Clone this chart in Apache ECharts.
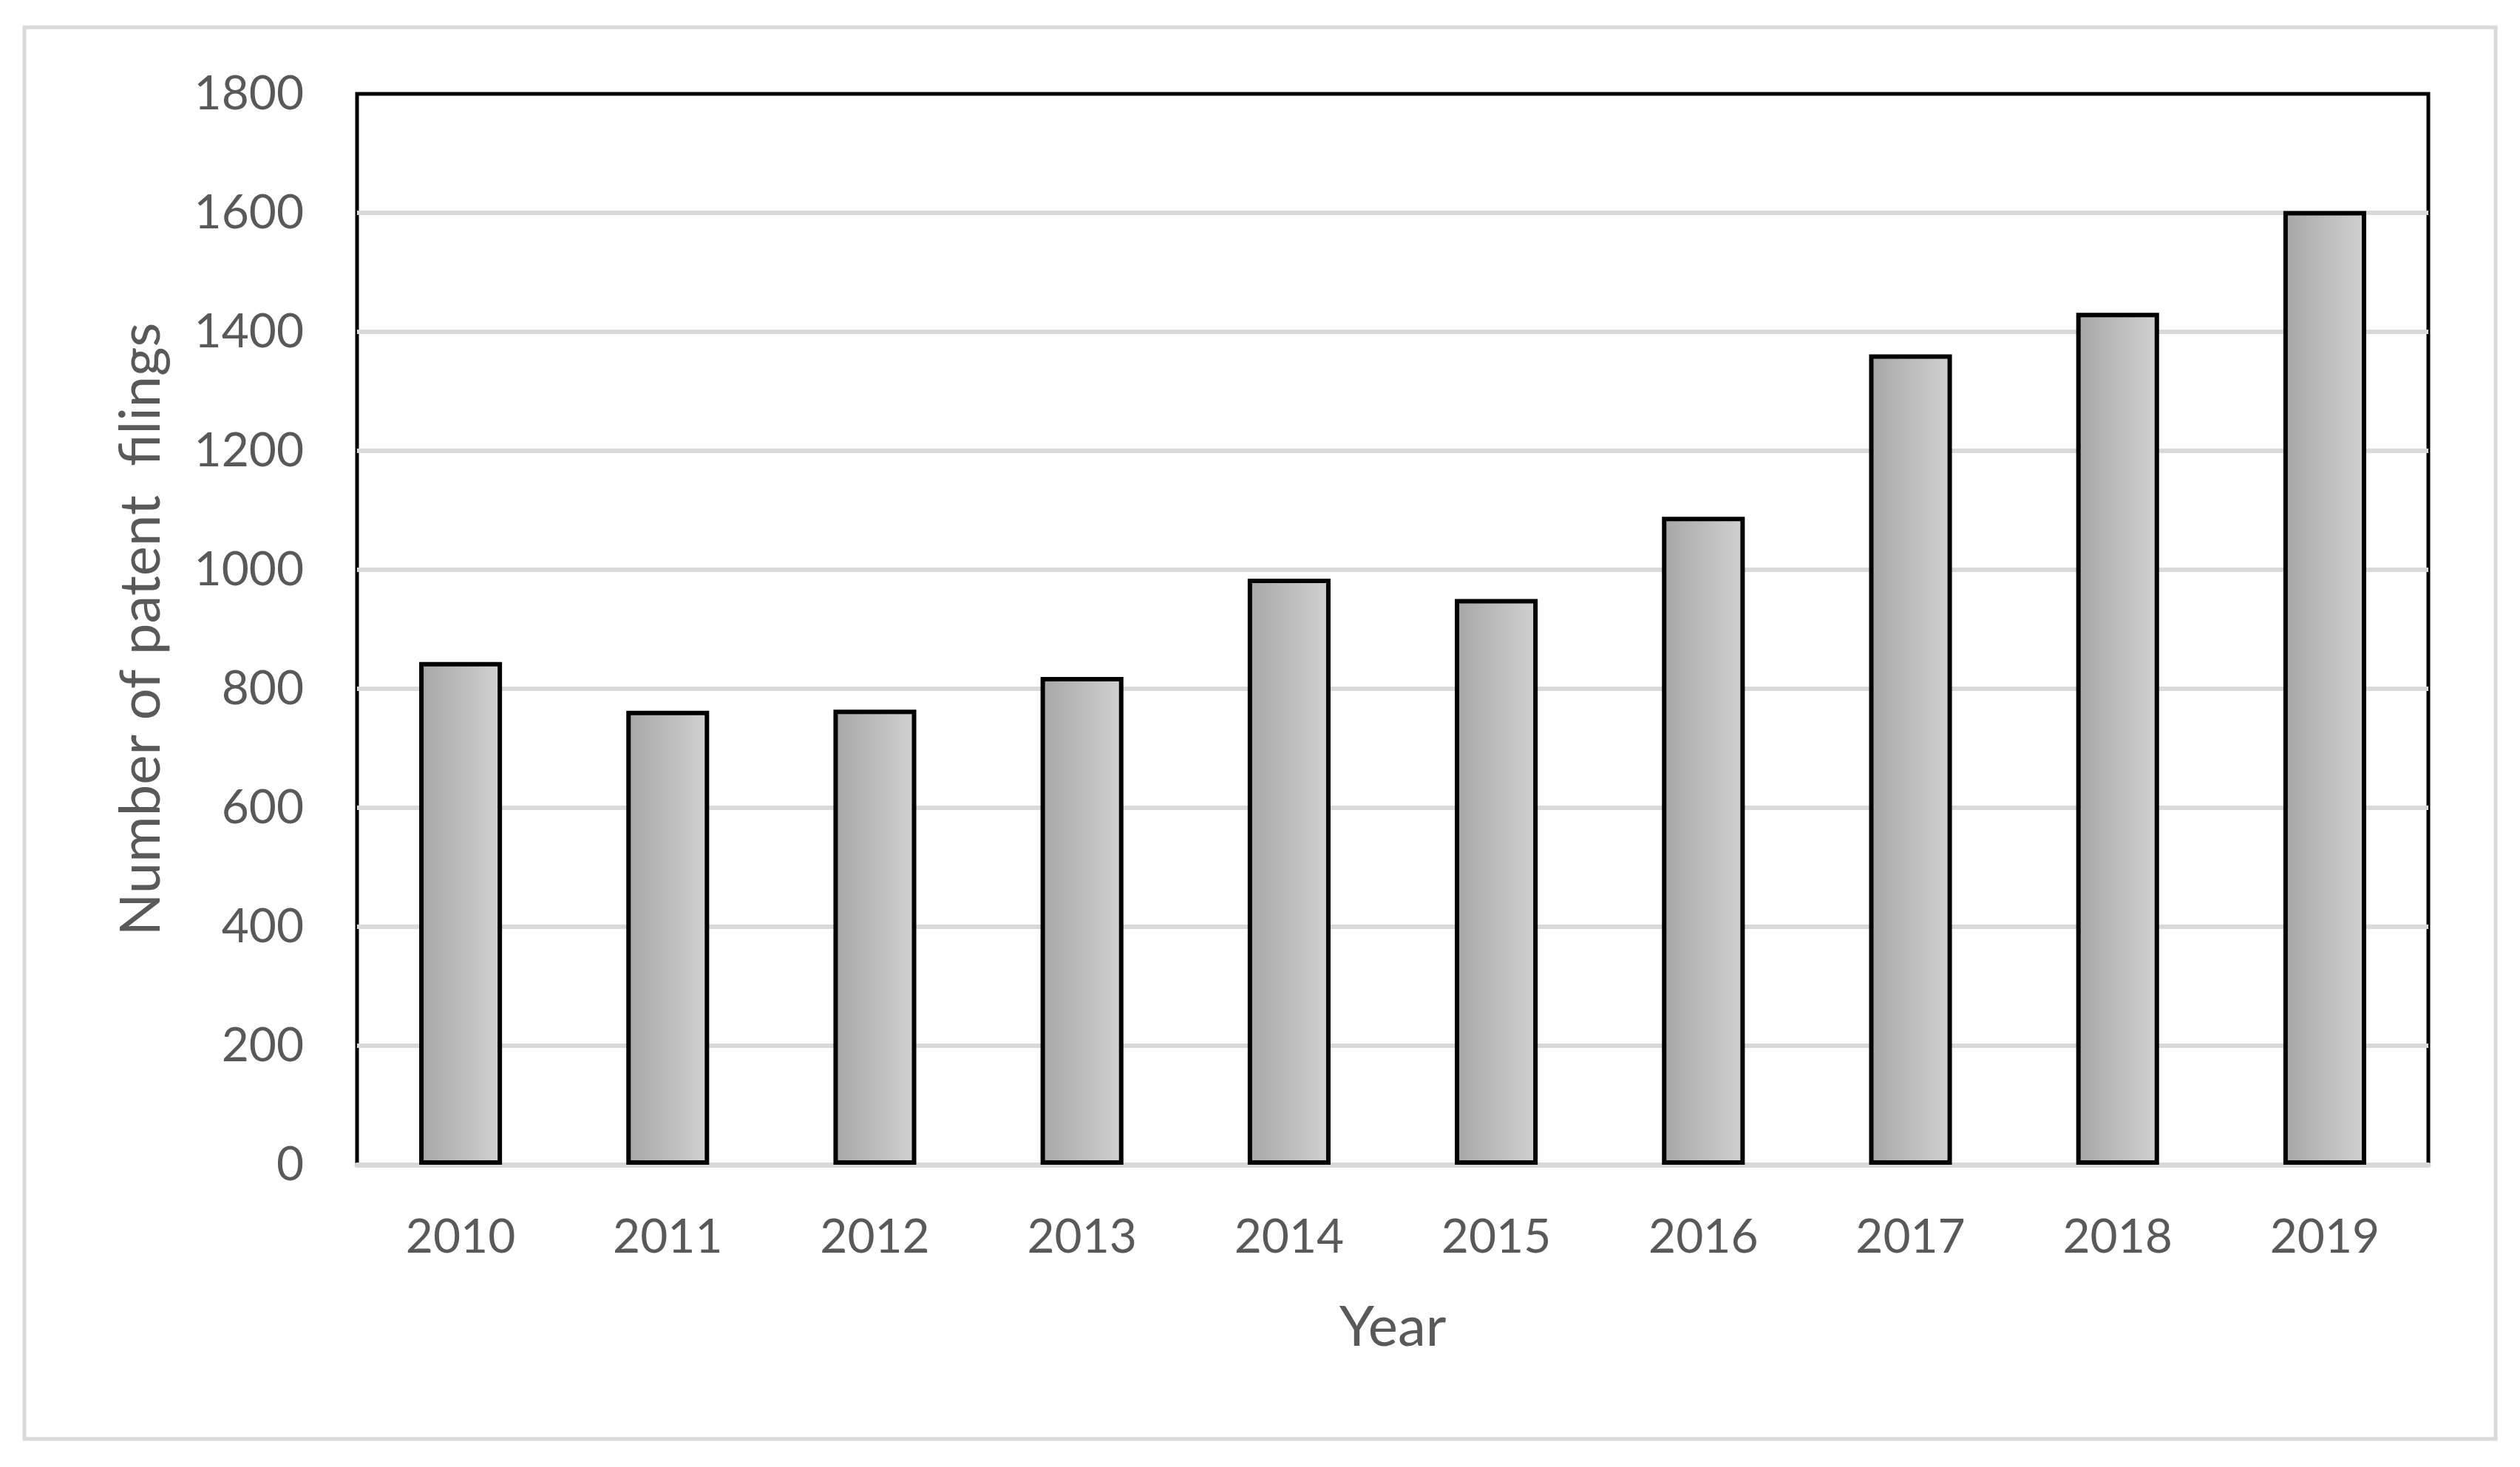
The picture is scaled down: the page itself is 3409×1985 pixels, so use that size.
<!DOCTYPE html>
<html>
<head>
<meta charset="utf-8">
<script src="https://cdn.jsdelivr.net/npm/echarts@6/dist/echarts.min.js"></script>
<style>
  html, body { margin: 0; padding: 0; background: #fff; }
  #main { width: 3409px; height: 1985px; }
</style>
</head>
<body>
<div id="main"></div>
<script>
var years = ['2010', '2011', '2012', '2013', '2014', '2015', '2016', '2017', '2018', '2019'];
var filings = [845, 763, 765, 820, 985, 951, 1089, 1362, 1432, 1603];
var yTicks = { min: 0, max: 1800, interval: 200 };

var chart = echarts.init(document.getElementById('main'));
var labelFont = 'Lato, "Open Sans", sans-serif';

var option = {
    backgroundColor: '#fff',
    animation: false,
    graphic: [
        {
            type: 'rect',
            shape: { x: 33, y: 37, width: 3343, height: 1910 },
            style: { fill: 'none', stroke: '#d9d9d9', lineWidth: 5 },
            silent: true
        }
    ],
    grid: {
        left: 483,
        right: 124,
        top: 127,
        bottom: 409,
        show: true,
        borderColor: '#000',
        borderWidth: 5
    },
    xAxis: {
        type: 'category',
        data: years,
        name: 'Year',
        nameLocation: 'middle',
        nameGap: 182,
        nameTextStyle: { fontFamily: labelFont, fontSize: 76, color: '#595959' },
        axisLine: { show: true, lineStyle: { color: '#d9d9d9', width: 7 } },
        axisTick: { show: false },
        axisLabel: { fontFamily: labelFont, fontSize: 64, color: '#595959', margin: 66 }
    },
    yAxis: {
        type: 'value',
        min: yTicks.min,
        max: yTicks.max,
        interval: yTicks.interval,
        name: 'Number of patent  filings',
        nameLocation: 'middle',
        nameGap: 254,
        nameTextStyle: { fontFamily: labelFont, fontSize: 76, color: '#595959' },
        axisLine: { show: false },
        axisTick: { show: false },
        axisLabel: {
            fontFamily: labelFont, fontSize: 64, color: '#595959', margin: 72,
            formatter: function (v) { return String(v); }
        },
        splitLine: { show: true, showMaxLine: false, lineStyle: { color: '#d9d9d9', width: 6 } }
    },
    series: [
        {
            type: 'bar',
            data: filings,
            barWidth: '40%',
            itemStyle: {
                color: new echarts.graphic.LinearGradient(0, 0, 1, 0, [
                    { offset: 0, color: '#a6a6a6' },
                    { offset: 1, color: '#d2d2d2' }
                ]),
                borderColor: '#000',
                borderWidth: 6
            }
        }
    ]
};
chart.setOption(option);
</script>
</body>
</html>
